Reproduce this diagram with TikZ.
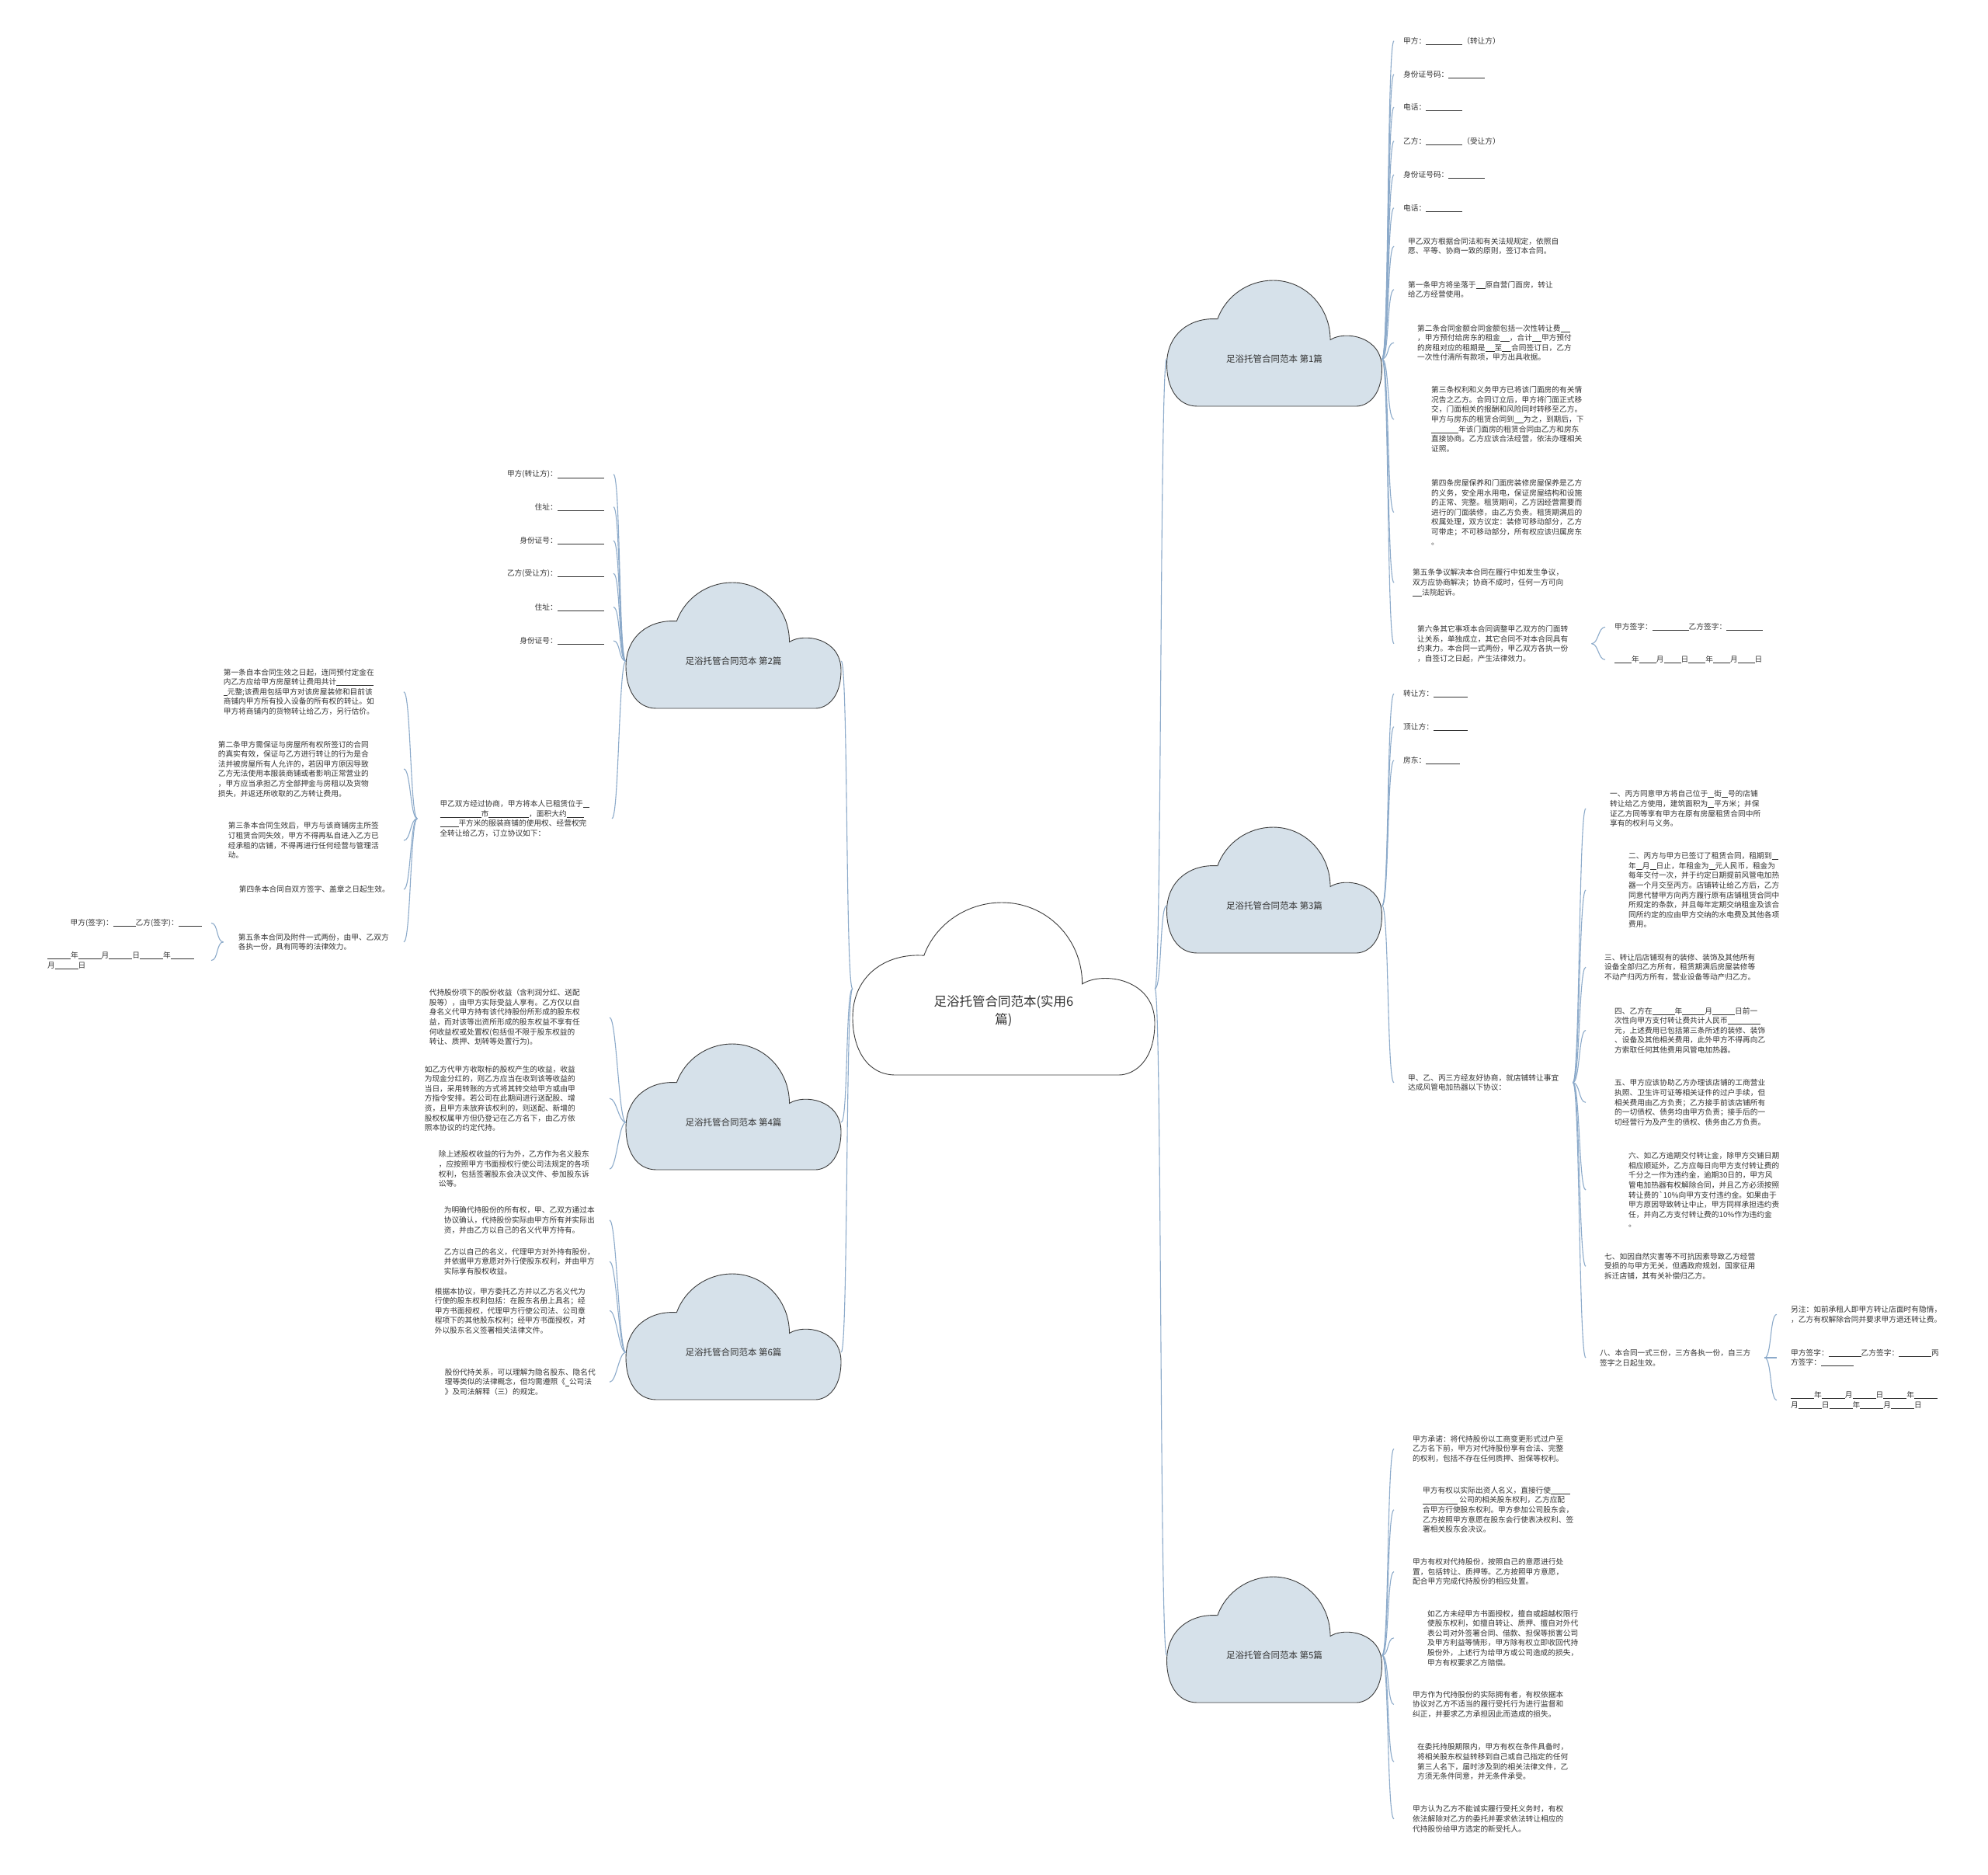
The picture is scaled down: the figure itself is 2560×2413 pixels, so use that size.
\documentclass[tikz,border=0pt]{standalone}
\usepackage{fontspec}
\setmainfont{Noto Sans CJK SC}
\usepackage{tikz}
\usetikzlibrary{backgrounds}
\definecolor{inkgray}  {RGB}{ 51, 51, 51}
\definecolor{linkblue} {RGB}{140,170,202}
\definecolor{cloudfill}{RGB}{214,225,234}
\definecolor{cloudedge}{RGB}{ 60, 60, 60}
\newcommand{\leaffont}{\fontsize{9.7}{12.6}\selectfont}
\newcommand{\topicfont}{\fontsize{11.5}{14}\selectfont}
\newcommand{\hubfont}{\fontsize{16.5}{23}\selectfont}
\newcommand{\fillblank}[1]{\rule[-1.2pt]{#1pt}{0.55pt}}

\tikzset{
  cloudpic/.pic={
    \path[pic actions] (-0.264,-0.193) .. controls (-0.225,-0.379) and (-0.120,-0.5) .. (-0.006,-0.5)
      .. controls (0.143,-0.5) and (0.260,-0.289) .. (0.260,-0.028)
      .. controls (0.328,-0.103) and (0.5,-0.058) .. (0.5,0.197)
      .. controls (0.5,0.422) and (0.431,0.5) .. (0.380,0.5)
      -- (-0.358,0.5)
      .. controls (-0.453,0.5) and (-0.5,0.347) .. (-0.5,0.167)
      .. controls (-0.5,-0.073) and (-0.393,-0.208) .. (-0.264,-0.193) -- cycle;
  }
}

\begin{document}
\begin{tikzpicture}[
    x=1pt, y=-1pt,
    leaf/.style={font=\leaffont, text=inkgray, align=left, inner ysep=1pt},
    xpad/.style={inner xsep=#1pt},
    conn/.style={draw=linkblue, line width=1.1pt},
    rlink/.style={to path={.. controls +(9,0) and +(-9,0) .. (\tikztotarget)}},
    llink/.style={to path={.. controls +(-9,0) and +(9,0) .. (\tikztotarget)}},
    hubbox/.style={minimum width=389pt, minimum height=222pt, inner sep=0pt},
    hubtext/.style={font=\hubfont, text=inkgray, align=center},
    topic/.style={font=\topicfont, text=inkgray, minimum width=277pt, inner sep=0pt}
]
    \useasboundingbox (0,0) rectangle (2560,2413);

    % --- root and the six topics ---
    \node[hubbox] (root) at (1292.5,1273) {};
    \node[hubtext] (roottxt) at ([yshift=-29pt]root.center) {足浴托管合同范本(实用6\\篇)};
    \node[topic] (t1) at (1641,462) {足浴托管合同范本 第1篇};
    \node[topic] (t3) at (1641,1166) {足浴托管合同范本 第3篇};
    \node[topic] (t5) at (1641,2131) {足浴托管合同范本 第5篇};
    \node[topic] (t2) at (944.5,851) {足浴托管合同范本 第2篇};
    \node[topic] (t4) at (944.5,1445) {足浴托管合同范本 第4篇};
    \node[topic] (t6) at (944.5,1741) {足浴托管合同范本 第6篇};

    % --- topic 1 ---
    \node[leaf, xpad=12, anchor=west] (a1) at (1795,52.7) {甲方：\fillblank{47}（转让方）};
    \node[leaf, xpad=12, anchor=west] (a2) at (1795,95.7) {身份证号码：\fillblank{47}};
    \node[leaf, xpad=12, anchor=west] (a3) at (1795,138) {电话：\fillblank{47}};
    \node[leaf, xpad=12, anchor=west] (a4) at (1795,181.7) {乙方：\fillblank{47}（受让方）};
    \node[leaf, xpad=12, anchor=west] (a5) at (1795,225) {身份证号码：\fillblank{47}};
    \node[leaf, xpad=12, anchor=west] (a6) at (1795,267.7) {电话：\fillblank{47}};
    \node[leaf, xpad=18, anchor=west] (a7) at (1795,317) {甲乙双方根据合同法和有关法规规定，依照自\\愿、平等、协商一致的原则，签订本合同。};
    \node[leaf, xpad=18, anchor=west] (a8) at (1795,372.8) {第一条甲方将坐落于\fillblank{12}原自营门面房，转让\\给乙方经营使用。};
    \node[leaf, xpad=30, anchor=west] (a9) at (1795,441.3) {第二条合同金额合同金额包括一次性转让费\fillblank{12}\\，甲方预付给房东的租金\fillblank{12}，合计\fillblank{12}甲方预付\\的房租对应的租期是\fillblank{12}至\fillblank{12}合同签订日，乙方\\一次性付清所有款项，甲方出具收据。};
    \node[leaf, xpad=48, anchor=west] (a10) at (1795,539.8) {第三条权利和义务甲方已将该门面房的有关情\\况告之乙方。合同订立后，甲方将门面正式移\\交，门面相关的报酬和风险同时转移至乙方。\\甲方与房东的租赁合同到\fillblank{12}为之，到期后，下\\\fillblank{35}年该门面房的租赁合同由乙方和房东\\直接协商。乙方应该合法经营，依法办理相关\\证照。};
    \node[leaf, xpad=48, anchor=west] (a11) at (1795,659.5) {第四条房屋保养和门面房装修房屋保养是乙方\\的义务，安全用水用电，保证房屋结构和设施\\的正常、完整。租赁期间，乙方因经营需要而\\进行的门面装修，由乙方负责。租赁期满后的\\权属处理，双方议定：装修可移动部分，乙方\\可带走；不可移动部分，所有权应该归属房东\\。};
    \node[leaf, xpad=24, anchor=west] (a12) at (1795,750) {第五条争议解决本合同在履行中如发生争议，\\双方应协商解决；协商不成时，任何一方可向\\\fillblank{12}法院起诉。};
    \node[leaf, xpad=30, anchor=west] (a13) at (1795,828.7) {第六条其它事项本合同调整甲乙双方的门面转\\让关系，单独成立，其它合同不对本合同具有\\约束力。本合同一式两份，甲乙双方各执一份\\，自签订之日起，产生法律效力。};
    \node[leaf, xpad=12, anchor=west] (a14) at (2067,807.3) {甲方签字：\fillblank{47}乙方签字：\fillblank{47}};
    \node[leaf, xpad=12, anchor=west] (a15) at (2067,849.3) {\fillblank{22}年\fillblank{22}月\fillblank{22}日\fillblank{22}年\fillblank{22}月\fillblank{22}日};

    % --- topic 3 ---
    \node[leaf, xpad=12, anchor=west] (b1) at (1795,893.3) {转让方：\fillblank{44}};
    \node[leaf, xpad=12, anchor=west] (b2) at (1795,935.7) {顶让方：\fillblank{44}};
    \node[leaf, xpad=12, anchor=west] (b3) at (1795,979) {房东：\fillblank{44}};
    \node[leaf, xpad=18, anchor=west] (b4) at (1795,1393.8) {甲、乙、丙三方经友好协商，就店铺转让事宜\\达成风管电加热器以下协议：};
    \node[leaf, xpad=31, anchor=west] (c1) at (2042,1041) {一、丙方同意甲方将自己位于\fillblank{8}街\fillblank{8}号的店铺\\转让给乙方使用，建筑面积为\fillblank{8}平方米；并保\\证乙方同等享有甲方在原有房屋租赁合同中所\\享有的权利与义务。};
    \node[leaf, xpad=55, anchor=west] (c2) at (2042,1146) {二、丙方与甲方已签订了租赁合同，租期到\fillblank{8}\\年\fillblank{8}月\fillblank{8}日止，年租金为\fillblank{8}元人民币，租金为\\每年交付一次，并于约定日期提前风管电加热\\器一个月交至丙方。店铺转让给乙方后，乙方\\同意代替甲方向丙方履行原有店铺租赁合同中\\所规定的条款，并且每年定期交纳租金及该合\\同所约定的应由甲方交纳的水电费及其他各项\\费用。};
    \node[leaf, xpad=24, anchor=west] (c3) at (2042,1245.2) {三、转让后店铺现有的装修、装饰及其他所有\\设备全部归乙方所有，租赁期满后房屋装修等\\不动产归丙方所有，营业设备等动产归乙方。};
    \node[leaf, xpad=37, anchor=west] (c4) at (2042,1326.5) {四、乙方在\fillblank{29}年\fillblank{29}月\fillblank{29}日前一\\次性向甲方支付转让费共计人民币\fillblank{42}\\元，上述费用已包括第三条所述的装修、装饰\\、设备及其他相关费用，此外甲方不得再向乙\\方索取任何其他费用风管电加热器。};
    \node[leaf, xpad=37, anchor=west] (c5) at (2042,1419.3) {五、甲方应该协助乙方办理该店铺的工商营业\\执照、卫生许可证等相关证件的过户手续，但\\相关费用由乙方负责；乙方接手前该店铺所有\\的一切债权、债务均由甲方负责；接手后的一\\切经营行为及产生的债权、债务由乙方负责。};
    \node[leaf, xpad=55, anchor=west] (c6) at (2042,1532) {六、如乙方逾期交付转让金，除甲方交铺日期\\相应顺延外，乙方应每日向甲方支付转让费的\\千分之一作为违约金，逾期30日的，甲方风\\管电加热器有权解除合同，并且乙方必须按照\\转让费的\textasciigrave 10\%向甲方支付违约金。如果由于\\甲方原因导致转让中止，甲方同样承担违约责\\任，并向乙方支付转让费的10\%作为违约金\\。};
    \node[leaf, xpad=24, anchor=west] (c7) at (2042,1630.2) {七、如因自然灾害等不可抗因素导致乙方经营\\受损的与甲方无关，但遇政府规划，国家征用\\拆迁店铺，其有关补偿归乙方。};
    \node[leaf, xpad=18, anchor=west] (c8) at (2042,1748) {八、本合同一式三份，三方各执一份，自三方\\签字之日起生效。};
    \node[leaf, xpad=18, anchor=west] (d1) at (2288,1692.3) {另注：如前承租人即甲方转让店面时有隐情，\\，乙方有权解除合同并要求甲方退还转让费。};
    \node[leaf, xpad=18, anchor=west] (d2) at (2288,1748) {甲方签字：\fillblank{42}乙方签字：\fillblank{42}丙\\方签字：\fillblank{42}};
    \node[leaf, xpad=18, anchor=west] (d3) at (2288,1802.5) {\fillblank{30}年\fillblank{30}月\fillblank{30}日\fillblank{30}年\fillblank{30}\\月\fillblank{30}日\fillblank{30}年\fillblank{30}月\fillblank{30}日};

    % --- topic 5 ---
    \node[leaf, xpad=24, anchor=west] (e1) at (1795,1865.3) {甲方承诺：将代持股份以工商变更形式过户至\\乙方名下前，甲方对代持股份享有合法、完整\\的权利，包括不存在任何质押、担保等权利。};
    \node[leaf, xpad=37, anchor=west] (e2) at (1795,1943.8) {甲方有权以实际出资人名义，直接行使\fillblank{25}\\\fillblank{45} 公司的相关股东权利，乙方应配\\合甲方行使股东权利。甲方参加公司股东会，\\乙方按照甲方意愿在股东会行使表决权利、签\\署相关股东会决议。};
    \node[leaf, xpad=24, anchor=west] (e3) at (1795,2023.5) {甲方有权对代持股份，按照自己的意愿进行处\\置，包括转让、质押等。乙方按照甲方意愿，\\配合甲方完成代持股份的相应处置。};
    \node[leaf, xpad=43, anchor=west] (e4) at (1795,2108.8) {如乙方未经甲方书面授权，擅自或超越权限行\\使股东权利，如擅自转让、质押、擅自对外代\\表公司对外签署合同、借款、担保等损害公司\\及甲方利益等情形，甲方除有权立即收回代持\\股份外，上述行为给甲方或公司造成的损失，\\甲方有权要求乙方赔偿。};
    \node[leaf, xpad=24, anchor=west] (e5) at (1795,2194.3) {甲方作为代持股份的实际拥有者，有权依据本\\协议对乙方不适当的履行受托行为进行监督和\\纠正，并要求乙方承担因此而造成的损失。};
    \node[leaf, xpad=30, anchor=west] (e6) at (1795,2268.2) {在委托持股期限内，甲方有权在条件具备时，\\将相关股东权益转移到自己或自己指定的任何\\第三人名下，届时涉及到的相关法律文件，乙\\方须无条件同意，并无条件承受。};
    \node[leaf, xpad=24, anchor=west] (e7) at (1795,2341.7) {甲方认为乙方不能诚实履行受托义务时，有权\\依法解除对乙方的委托并要求依法转让相应的\\代持股份给甲方选定的新受托人。};

    % --- topic 2 ---
    \node[leaf, xpad=12, anchor=east] (f1) at (790,610.7) {甲方(转让方)：\fillblank{60}};
    \node[leaf, xpad=12, anchor=east] (f2) at (790,652.7) {住址：\fillblank{60}};
    \node[leaf, xpad=12, anchor=east] (f3) at (790,696) {身份证号：\fillblank{60}};
    \node[leaf, xpad=12, anchor=east] (f4) at (790,738.3) {乙方(受让方)：\fillblank{60}};
    \node[leaf, xpad=12, anchor=east] (f5) at (790,781.7) {住址：\fillblank{60}};
    \node[leaf, xpad=12, anchor=east] (f6) at (790,825) {身份证号：\fillblank{60}};
    \node[leaf, xpad=29, anchor=east] (f7) at (788,1053.8) {甲乙双方经过协商，甲方将本人已租赁位于\fillblank{8}\\\fillblank{53}市\fillblank{52}，面积大约\fillblank{22}\\\fillblank{24}平方米的服装商铺的使用权、经营权完\\全转让给乙方，订立协议如下：};
    \node[leaf, xpad=38, anchor=east] (g1) at (520,890.7) {第一条自本合同生效之日起，连同预付定金在\\内乙方应给甲方房屋转让费用共计\fillblank{48}\\\fillblank{5}元整;该费用包括甲方对该房屋装修和目前该\\商铺内甲方所有投入设备的所有权的转让。如\\甲方将商铺内的货物转让给乙方，另行估价。};
    \node[leaf, xpad=45, anchor=east] (g2) at (520,990) {第二条甲方需保证与房屋所有权所签订的合同\\的真实有效，保证与乙方进行转让的行为是合\\法并被房屋所有人允许的，若因甲方原因导致\\乙方无法使用本服装商铺或者影响正常营业的\\，甲方应当承担乙方全部押金与房租以及货物\\损失，并返还所收取的乙方转让费用。};
    \node[leaf, xpad=32, anchor=east] (g3) at (520,1082) {第三条本合同生效后，甲方与该商铺房主所签\\订租赁合同失效，甲方不得再私自进入乙方已\\经承租的店铺，不得再进行任何经营与管理活\\动。};
    \node[leaf, xpad=18, anchor=east] (g4) at (520,1145) {第四条本合同自双方签字、盖章之日起生效。};
    \node[leaf, xpad=19, anchor=east] (g5) at (520,1212.8) {第五条本合同及附件一式两份，由甲、乙双方\\各执一份，具有同等的法律效力。};
    \node[leaf, xpad=12, anchor=east] (h1) at (272,1188.3) {甲方(签字)：\fillblank{29}乙方(签字)：\fillblank{30}};
    \node[leaf, xpad=22, anchor=east] (h2) at (272,1236.5) {\fillblank{30}年\fillblank{30}月\fillblank{30}日\fillblank{30}年\fillblank{30}\\月\fillblank{30}日};

    % --- topic 4 ---
    \node[leaf, xpad=38, anchor=east] (p1) at (785,1310) {代持股份项下的股份收益（含利润分红、送配\\股等），由甲方实际受益人享有。乙方仅以自\\身名义代甲方持有该代持股份所形成的股东权\\益，而对该等出资所形成的股东权益不享有任\\何收益权或处置权(包括但不限于股东权益的\\转让、质押、划转等处置行为)。};
    \node[leaf, xpad=44, anchor=east] (p2) at (785,1414.2) {如乙方代甲方收取标的股权产生的收益，收益\\为现金分红的，则乙方应当在收到该等收益的\\当日，采用转账的方式将其转交给甲方或由甲\\方指令安排。若公司在此期间进行送配股、增\\资，且甲方未放弃该权利的，则送配、新增的\\股权权属甲方但仍登记在乙方名下，由乙方依\\照本协议的约定代持。};
    \node[leaf, xpad=26, anchor=east] (p3) at (785,1505) {除上述股权收益的行为外，乙方作为名义股东\\，应按照甲方书面授权行使公司法规定的各项\\权利，包括签署股东会决议文件、参加股东诉\\讼等。};

    % --- topic 6 ---
    \node[leaf, xpad=19, anchor=east] (q1) at (785,1570.8) {为明确代持股份的所有权，甲、乙双方通过本\\协议确认，代持股份实际由甲方所有并实际出\\资，并由乙方以自己的名义代甲方持有。};
    \node[leaf, xpad=19, anchor=east] (q2) at (785,1624.2) {乙方以自己的名义，代理甲方对外持有股份，\\并依据甲方意愿对外行使股东权利，并由甲方\\实际享有股权收益。};
    \node[leaf, xpad=31, anchor=east] (q3) at (785,1687.5) {根据本协议，甲方委托乙方并以乙方名义代为\\行使的股东权利包括：在股东名册上具名；经\\甲方书面授权，代理甲方行使公司法、公司章\\程项下的其他股东权利；经甲方书面授权，对\\外以股东名义签署相关法律文件。};
    \node[leaf, xpad=18, anchor=east] (q4) at (785,1779.3) {股份代持关系，可以理解为隐名股东、隐名代\\理等类似的法律概念，但均需遵照《\fillblank{5}公司法\\》及司法解释（三）的规定。};

    % --- clouds behind the labels ---
    \begin{scope}[on background layer]
        \fill[white] (0,0) rectangle (2560,2413);
        \pic[draw=cloudedge, fill=white, line width=0.9pt, xscale=389, yscale=222] at (root.center) {cloudpic};
        \pic[draw=cloudedge, fill=cloudfill, line width=0.9pt, xscale=277, yscale=162] at ([yshift=20pt]t1.center) {cloudpic};
        \pic[draw=cloudedge, fill=cloudfill, line width=0.9pt, xscale=277, yscale=162] at ([yshift=20pt]t3.center) {cloudpic};
        \pic[draw=cloudedge, fill=cloudfill, line width=0.9pt, xscale=277, yscale=162] at ([yshift=20pt]t5.center) {cloudpic};
        \pic[draw=cloudedge, fill=cloudfill, line width=0.9pt, xscale=277, yscale=162] at ([yshift=20pt]t2.center) {cloudpic};
        \pic[draw=cloudedge, fill=cloudfill, line width=0.9pt, xscale=277, yscale=162] at ([yshift=20pt]t4.center) {cloudpic};
        \pic[draw=cloudedge, fill=cloudfill, line width=0.9pt, xscale=277, yscale=162] at ([yshift=20pt]t6.center) {cloudpic};
    \end{scope}

    % --- root to topics ---
    \draw[conn, rlink] (root.east) to (t1.west);
    \draw[conn, rlink] (root.east) to (t3.west);
    \draw[conn, rlink] (root.east) to (t5.west);
    \draw[conn, llink] (root.west) to (t2.east);
    \draw[conn, llink] (root.west) to (t4.east);
    \draw[conn, llink] (root.west) to (t6.east);

    % --- topic 1 branches ---
    \draw[conn, rlink] (t1.east) to (a1.west);
    \draw[conn, rlink] (t1.east) to (a2.west);
    \draw[conn, rlink] (t1.east) to (a3.west);
    \draw[conn, rlink] (t1.east) to (a4.west);
    \draw[conn, rlink] (t1.east) to (a5.west);
    \draw[conn, rlink] (t1.east) to (a6.west);
    \draw[conn, rlink] (t1.east) to (a7.west);
    \draw[conn, rlink] (t1.east) to (a8.west);
    \draw[conn, rlink] (t1.east) to (a9.west);
    \draw[conn, rlink] (t1.east) to (a10.west);
    \draw[conn, rlink] (t1.east) to (a11.west);
    \draw[conn, rlink] (t1.east) to (a12.west);
    \draw[conn, rlink] (t1.east) to (a13.west);
    \draw[conn, rlink] (a13.east) to (a14.west);
    \draw[conn, rlink] (a13.east) to (a15.west);

    % --- topic 3 branches ---
    \draw[conn, rlink] (t3.east) to (b1.west);
    \draw[conn, rlink] (t3.east) to (b2.west);
    \draw[conn, rlink] (t3.east) to (b3.west);
    \draw[conn, rlink] (t3.east) to (b4.west);
    \draw[conn, rlink] (b4.east) to (c1.west);
    \draw[conn, rlink] (b4.east) to (c2.west);
    \draw[conn, rlink] (b4.east) to (c3.west);
    \draw[conn, rlink] (b4.east) to (c4.west);
    \draw[conn, rlink] (b4.east) to (c5.west);
    \draw[conn, rlink] (b4.east) to (c6.west);
    \draw[conn, rlink] (b4.east) to (c7.west);
    \draw[conn, rlink] (b4.east) to (c8.west);
    \draw[conn, rlink] (c8.east) to (d1.west);
    \draw[conn, rlink] (c8.east) to (d2.west);
    \draw[conn, rlink] (c8.east) to (d3.west);

    % --- topic 5 branches ---
    \draw[conn, rlink] (t5.east) to (e1.west);
    \draw[conn, rlink] (t5.east) to (e2.west);
    \draw[conn, rlink] (t5.east) to (e3.west);
    \draw[conn, rlink] (t5.east) to (e4.west);
    \draw[conn, rlink] (t5.east) to (e5.west);
    \draw[conn, rlink] (t5.east) to (e6.west);
    \draw[conn, rlink] (t5.east) to (e7.west);

    % --- topic 2 branches ---
    \draw[conn, llink] (t2.west) to (f1.east);
    \draw[conn, llink] (t2.west) to (f2.east);
    \draw[conn, llink] (t2.west) to (f3.east);
    \draw[conn, llink] (t2.west) to (f4.east);
    \draw[conn, llink] (t2.west) to (f5.east);
    \draw[conn, llink] (t2.west) to (f6.east);
    \draw[conn, llink] (t2.west) to (f7.east);
    \draw[conn, llink] (f7.west) to (g1.east);
    \draw[conn, llink] (f7.west) to (g2.east);
    \draw[conn, llink] (f7.west) to (g3.east);
    \draw[conn, llink] (f7.west) to (g4.east);
    \draw[conn, llink] (f7.west) to (g5.east);
    \draw[conn, llink] (g5.west) to (h1.east);
    \draw[conn, llink] (g5.west) to (h2.east);

    % --- topic 4 and 6 branches ---
    \draw[conn, llink] (t4.west) to (p1.east);
    \draw[conn, llink] (t4.west) to (p2.east);
    \draw[conn, llink] (t4.west) to (p3.east);
    \draw[conn, llink] (t6.west) to (q1.east);
    \draw[conn, llink] (t6.west) to (q2.east);
    \draw[conn, llink] (t6.west) to (q3.east);
    \draw[conn, llink] (t6.west) to (q4.east);

\end{tikzpicture}
\end{document}
